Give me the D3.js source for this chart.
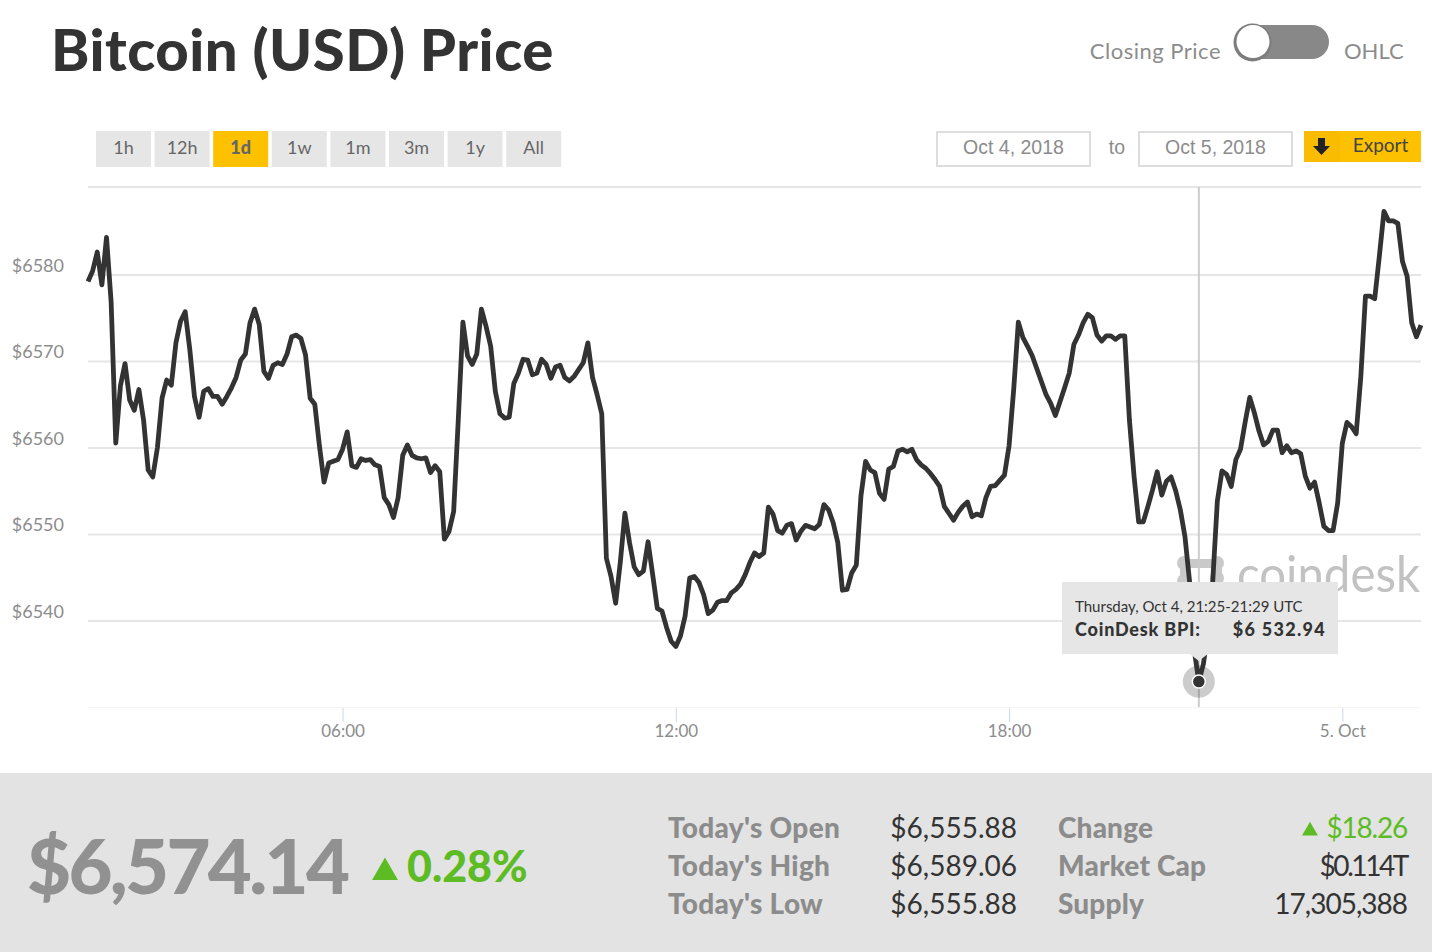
<!DOCTYPE html>
<html>
<head>
<meta charset="utf-8">
<script src="https://cdn.jsdelivr.net/npm/d3@7"></script>
<style>
  html, body { margin: 0; padding: 0; background: #fff; }
  svg { display: block; }
  text { font-family: "Lato", sans-serif; }
  .axis path { display: none; }
  .axis text { font-family: "Lato", sans-serif; fill: #8c8c8c; }
</style>
</head>
<body>
<div id="chart"></div>
<script>
// closing price every 5 minutes, Oct 4 01:25 to Oct 5 01:25 UTC
var startMinute = 85;
var stepMinutes = 5;
var prices = [
  6579.2,6580.4,6582.6,6578.8,6584.3,6576.8,6560.5,6567.1,6569.7,6565.5,6564.3,6566.7,
  6563.2,6557.4,6556.6,6560.0,6565.7,6567.8,6567.2,6572.1,6574.6,6575.7,6571.3,6565.9,
  6563.5,6566.5,6566.8,6565.9,6565.9,6565.0,6565.9,6566.9,6568.1,6570.1,6570.8,6574.4,
  6576.0,6574.2,6568.8,6568.0,6569.5,6569.8,6569.6,6570.8,6572.8,6573.0,6572.6,6570.7,
  6565.7,6565.0,6560.2,6556.0,6558.2,6558.4,6558.6,6559.8,6561.8,6557.9,6557.7,6558.7,
  6558.5,6558.6,6558.0,6557.8,6554.2,6553.4,6551.9,6554.2,6559.1,6560.3,6559.1,6558.8,
  6558.7,6558.8,6557.1,6557.9,6557.2,6549.4,6550.3,6552.6,6563.2,6574.5,6570.6,6569.6,
  6570.8,6576.0,6574.0,6571.7,6566.5,6563.9,6563.4,6563.5,6567.4,6568.6,6570.2,6570.1,
  6568.4,6568.6,6570.2,6569.6,6568.0,6569.3,6569.5,6568.1,6567.7,6568.2,6569.0,6569.8,
  6572.1,6568.1,6566.1,6563.9,6547.2,6545.1,6542.0,6546.7,6552.4,6549.0,6546.2,6545.3,
  6545.7,6549.1,6545.3,6541.4,6541.1,6539.2,6537.6,6537.0,6538.2,6540.5,6544.9,6545.1,
  6544.4,6543.0,6540.8,6541.2,6542.1,6542.3,6542.3,6543.2,6543.6,6544.2,6545.3,6546.7,
  6547.8,6547.4,6547.8,6553.1,6552.3,6550.4,6550.1,6551.0,6551.2,6549.3,6550.3,6551.0,
  6550.8,6550.6,6551.1,6553.4,6552.8,6551.3,6549.0,6543.5,6543.6,6545.5,6546.4,6554.4,
  6558.4,6557.4,6557.1,6554.7,6554.0,6557.5,6557.8,6559.6,6559.8,6559.5,6559.8,6558.6,
  6558.0,6557.6,6557.0,6556.3,6555.5,6553.2,6552.4,6551.6,6552.5,6553.2,6553.7,6552.0,
  6552.3,6552.1,6554.2,6555.5,6555.6,6556.2,6556.8,6560.2,6566.7,6574.5,6572.7,6571.7,
  6570.6,6569.1,6567.6,6566.1,6565.1,6563.7,6565.3,6566.9,6568.6,6571.9,6573.0,6574.4,
  6575.4,6575.0,6573.0,6572.3,6572.9,6572.9,6572.5,6572.9,6572.9,6563.2,6556.7,6551.4,
  6551.4,6553.2,6555.1,6557.2,6554.5,6556.1,6556.6,6555.0,6552.8,6549.7,6544.5,6536.6,
  6532.94,6535.0,6539.0,6544.5,6553.8,6557.3,6556.9,6555.5,6558.6,6559.8,6562.9,6565.8,
  6564.0,6561.9,6560.3,6560.7,6562.0,6562.0,6559.4,6560.2,6559.4,6559.6,6559.3,6556.7,
  6555.3,6556.0,6553.6,6550.9,6550.4,6550.4,6553.6,6560.5,6562.9,6562.4,6561.6,6568.2,
  6577.5,6577.5,6577.2,6582.1,6587.3,6586.2,6586.2,6585.9,6581.5,6579.8,6574.4,6572.8,
  6574.14
];
var hoverIndex = 240;

var gridValues = [6530, 6540, 6550, 6560, 6570, 6580];
var labelledValues = [6540, 6550, 6560, 6570, 6580];
var timeTicks = [360, 720, 1080, 1440];
var timeLabels = ["06:00", "12:00", "18:00", "5. Oct"];

var rangeButtons = ["1h", "12h", "1d", "1w", "1m", "3m", "1y", "All"];
var activeRange = "1d";
var dateFrom = "Oct 4, 2018";
var dateTo = "Oct 5, 2018";

var statLabelsLeft = ["Today's Open", "Today's High", "Today's Low"];
var statValuesLeft = ["$6,555.88", "$6,589.06", "$6,555.88"];
var statLabelsRight = ["Change", "Market Cap", "Supply"];
var statValuesRight = ["$18.26", "$0.114T", "17,305,388"];

var width = 1432, height = 952;
var green = "#5dbb23";
var plotTop = 187, plotBottom = 707;

var svg = d3.select("#chart").append("svg")
    .attr("width", width)
    .attr("height", height);

var minuteOf = function(i) { return startMinute + i * stepMinutes; };

var x = d3.scaleLinear()
    .domain([minuteOf(0), minuteOf(prices.length - 1)])
    .range([88, 1421]);

var y = d3.scaleLinear()
    .domain([6530, 6580])
    .range([plotBottom, 274.5]);

// header
svg.append("text")
    .attr("x", 51).attr("y", 71)
    .style("font-size", "58px").style("font-weight", 900)
    .style("letter-spacing", "0.5px")
    .attr("fill", "#333")
    .text("Bitcoin (USD) Price");

svg.append("text")
    .attr("x", 1221).attr("y", 59)
    .attr("text-anchor", "end")
    .style("font-size", "22px").style("letter-spacing", "0.5px").attr("fill", "#8c8c8c")
    .text("Closing Price");
svg.append("text")
    .attr("x", 1344).attr("y", 59)
    .style("font-size", "22px").attr("fill", "#8c8c8c")
    .text("OHLC");

svg.append("rect")
    .attr("x", 1238).attr("y", 25)
    .attr("width", 91).attr("height", 34).attr("rx", 17)
    .attr("fill", "#888");
svg.append("circle")
    .attr("cx", 1252.5).attr("cy", 42.5).attr("r", 19)
    .attr("fill", "#7d7d7d");
svg.append("circle")
    .attr("cx", 1253).attr("cy", 41.5).attr("r", 16.5)
    .attr("fill", "#fff");

// range buttons
var buttons = svg.append("g").selectAll("g")
    .data(rangeButtons)
  .enter().append("g")
    .attr("transform", function(d, i) { return "translate(" + (96 + i * 58.6) + ",131)"; });

buttons.append("rect")
    .attr("width", 55).attr("height", 36)
    .attr("fill", function(d) { return d == activeRange ? "#fdc100" : "#e6e6e6"; });

buttons.append("text")
    .attr("x", 27.5).attr("y", 23)
    .attr("text-anchor", "middle")
    .style("font-size", "18px")
    .style("font-weight", function(d) { return d == activeRange ? 900 : 400; })
    .attr("fill", "#666")
    .text(function(d) { return d; });

// date boxes and export
[[dateFrom, 937], [dateTo, 1139]].forEach(function(d) {
  svg.append("rect")
      .attr("x", d[1]).attr("y", 132)
      .attr("width", 153).attr("height", 34)
      .attr("fill", "#fff").attr("stroke", "#ddd").attr("stroke-width", 2);
  svg.append("text")
      .attr("x", d[1] + 76.5).attr("y", 154)
      .attr("text-anchor", "middle")
      .style("font-size", "19.5px").style("font-family", "Liberation Sans")
      .attr("fill", "#8c8c8c")
      .text(d[0]);
});
svg.append("text")
    .attr("x", 1117).attr("y", 154)
    .attr("text-anchor", "middle")
    .style("font-size", "19.5px").style("font-family", "Liberation Sans")
    .attr("fill", "#8c8c8c")
    .text("to");

svg.append("rect")
    .attr("x", 1304).attr("y", 131)
    .attr("width", 117).attr("height", 31)
    .attr("fill", "#fdc100");
svg.append("rect")
    .attr("x", 1304).attr("y", 131)
    .attr("width", 36).attr("height", 31)
    .attr("fill", "#f9bc00");
svg.append("path")
    .attr("d", "M1318 138h7v8h5l-8.500 9l-8.500 -9h5z")
    .attr("fill", "#222");
svg.append("text")
    .attr("x", 1380.5).attr("y", 152)
    .attr("text-anchor", "middle")
    .style("font-size", "19px").attr("fill", "#444")
    .text("Export");

// watermark
var mark = svg.append("g").attr("fill", "#c9c9c9");
[[1184, 563], [1217, 563], [1184, 581], [1217, 578]].forEach(function(p) {
  mark.append("circle").attr("cx", p[0]).attr("cy", p[1]).attr("r", 7);
});
mark.append("path").attr("d", "M1184 559H1217V568H1184Z");
mark.append("path").attr("d", "M1180 564H1190V590H1180Z");
mark.append("path").attr("d", "M1212 564H1222V584H1212Z");
svg.append("text")
    .attr("x", 1237).attr("y", 592)
    .attr("textLength", 183).attr("lengthAdjust", "spacingAndGlyphs")
    .style("font-size", "50px").attr("fill", "#c2c2c2")
    .text("coindesk");

// y axis with grid
var yAxis = d3.axisLeft(y)
    .tickValues(gridValues)
    .tickSize(-(1421 - 88))
    .tickPadding(24)
    .tickFormat(function(d) { return labelledValues.indexOf(d) >= 0 ? "$" + d : ""; });

var yg = svg.append("g")
    .attr("class", "axis")
    .attr("transform", "translate(88,0)")
    .call(yAxis);

yg.selectAll(".tick line")
    .attr("stroke", "#e6e6e6").attr("stroke-width", 2);
yg.selectAll(".tick text").attr("dy", "-0.17em").style("font-size", "18px");
yg.selectAll(".tick")
    .filter(function(d) { return d == 6530; })
    .select("line").attr("stroke", "#f4f4f4").attr("stroke-width", 1);

svg.append("line")
    .attr("x1", 88).attr("x2", 1421)
    .attr("y1", plotTop).attr("y2", plotTop)
    .attr("stroke", "#e6e6e6").attr("stroke-width", 2);

// x axis
var xAxis = d3.axisBottom(x)
    .tickValues(timeTicks)
    .tickSize(14)
    .tickPadding(3)
    .tickFormat(function(d, i) { return timeLabels[i]; });

var xg = svg.append("g")
    .attr("class", "axis")
    .attr("transform", "translate(0,708)")
    .call(xAxis);
xg.selectAll(".tick line").attr("stroke", "#ccd6eb");
xg.selectAll(".tick text").style("font-size", "17px");

// crosshair under the line
svg.append("line")
    .attr("x1", x(minuteOf(hoverIndex))).attr("x2", x(minuteOf(hoverIndex)))
    .attr("y1", plotTop).attr("y2", plotBottom)
    .attr("stroke", "#ccc").attr("stroke-width", 2);

var line = d3.line()
    .x(function(d, i) { return x(minuteOf(i)); })
    .y(function(d) { return y(d); });

svg.append("path")
    .datum(prices)
    .attr("fill", "none")
    .attr("stroke", "#333")
    .attr("stroke-width", 4.8)
    .attr("stroke-linejoin", "round")
    .attr("d", line);

// hovered point
var hx = x(minuteOf(hoverIndex)), hy = y(prices[hoverIndex]);
svg.append("circle").attr("cx", hx).attr("cy", hy).attr("r", 16)
    .attr("fill", "#333").attr("fill-opacity", 0.25);
svg.append("circle").attr("cx", hx).attr("cy", hy).attr("r", 6.5)
    .attr("fill", "#333").attr("stroke", "#fff").attr("stroke-width", 1.5);

// tooltip
var tip = svg.append("g").attr("transform", "translate(1062,582)");
tip.append("path")
    .attr("d", "M0 0H276V72H" + (hx - 1062 + 9) + "L" + (hx - 1062) + " 79L" + (hx - 1062 - 9) + " 72H0Z")
    .attr("fill", "#e6e6e6");
tip.append("text")
    .attr("x", 13).attr("y", 30)
    .style("font-size", "15px").attr("fill", "#333")
    .text("Thursday, Oct 4, 21:25-21:29 UTC");
tip.append("text")
    .attr("x", 13).attr("y", 54)
    .style("font-size", "18px").style("font-weight", 900)
    .style("letter-spacing", "0.8px").attr("fill", "#333")
    .text("CoinDesk BPI:");
tip.append("text")
    .attr("x", 264).attr("y", 54)
    .attr("text-anchor", "end")
    .style("font-size", "18px").style("font-weight", 900)
    .style("letter-spacing", "1.3px").attr("fill", "#333")
    .text("$6 532.94");

// bottom panel
svg.append("rect")
    .attr("x", 0).attr("y", 773)
    .attr("width", width).attr("height", height - 773)
    .attr("fill", "#e3e3e3");

svg.append("text")
    .attr("x", 27).attr("y", 894)
    .style("font-size", "76px").style("font-weight", 900)
    .style("letter-spacing", "-2.7px")
    .attr("fill", "#919191")
    .text("$6,574.14");

svg.append("path")
    .attr("d", d3.symbol().type(d3.symbolTriangle).size(290))
    .attr("transform", "translate(385,872.5)")
    .attr("fill", green);
svg.append("text")
    .attr("x", 407).attr("y", 882)
    .style("font-size", "43px").style("font-weight", 900)
    .attr("fill", green)
    .text("0.28%");

var rowY = [838, 876, 914];
var valueSpacing = ["-1.2px", "-2.4px", "-1px"];

rowY.forEach(function(ry, i) {
  svg.append("text").attr("x", 668).attr("y", ry)
      .style("font-size", "28px").style("font-weight", 900)
      .style("letter-spacing", "0.3px").attr("fill", "#8c8c8c")
      .text(statLabelsLeft[i]);
  svg.append("text").attr("x", 1017).attr("y", ry)
      .attr("text-anchor", "end")
      .style("font-size", "28px").attr("fill", "#333")
      .text(statValuesLeft[i]);
  svg.append("text").attr("x", 1058).attr("y", ry)
      .style("font-size", "28px").style("font-weight", 900)
      .style("letter-spacing", "0.15px").attr("fill", "#8c8c8c")
      .text(statLabelsRight[i]);
  svg.append("text").attr("x", 1407).attr("y", ry)
      .attr("text-anchor", "end")
      .style("font-size", "28px").style("letter-spacing", valueSpacing[i])
      .attr("fill", i == 0 ? green : "#333")
      .text(statValuesRight[i]);
});

svg.append("path")
    .attr("d", d3.symbol().type(d3.symbolTriangle).size(110))
    .attr("transform", "translate(1310,831)")
    .attr("fill", green);
</script>
</body>
</html>
